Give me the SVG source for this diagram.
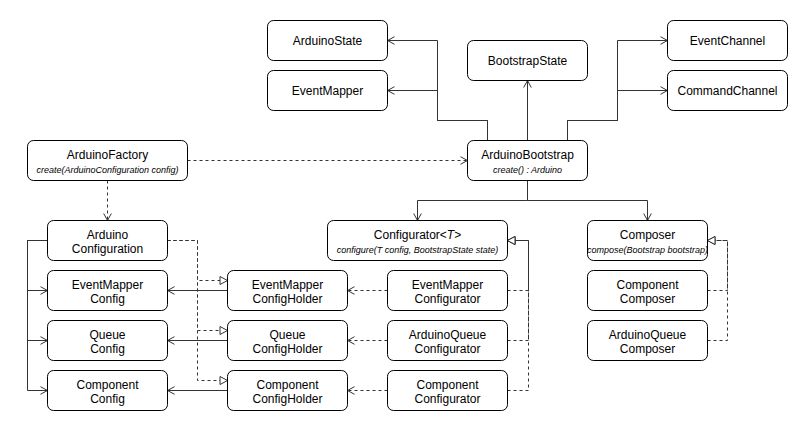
<svg xmlns="http://www.w3.org/2000/svg" width="808" height="431" viewBox="0 0 808 431">
<style>
.box{fill:#fff;stroke:#000;stroke-width:1}
.t{font-family:"Liberation Sans",Arial,sans-serif;font-size:12px;fill:#000;text-anchor:middle}
.i{font-family:"Liberation Sans",Arial,sans-serif;font-size:9px;font-style:italic;fill:#000;text-anchor:middle}
.ln{fill:none;stroke:#333;stroke-width:1}
.d{stroke-dasharray:3 3}
.oa{marker-end:url(#open)}
.ta{marker-end:url(#tri)}
</style>
<defs>
<marker id="open" markerUnits="userSpaceOnUse" viewBox="0 0 10 10" markerWidth="10" markerHeight="10" refX="9" refY="5" orient="auto">
<path d="M2,1.2 L9,5 L2,8.8" fill="none" stroke="#333" stroke-width="1"/>
</marker>
<marker id="tri" markerUnits="userSpaceOnUse" viewBox="0 0 10 10" markerWidth="10" markerHeight="10" refX="9" refY="5" orient="auto">
<path d="M1.5,1 L9,5 L1.5,9 Z" fill="#fff" stroke="#333" stroke-width="1"/>
</marker>
</defs>
<rect width="808" height="431" fill="#fff"/>
<g transform="translate(0.5,0.5)">
<g id="connectors">
<path class="ln oa" d="M487,140 V120 H437 V40 H387"/>
<path class="ln oa" d="M487,140 V120 H437 V90 H387"/>
<path class="ln oa" d="M527,140 V80"/>
<path class="ln oa" d="M567,140 V120 H617 V40 H667"/>
<path class="ln oa" d="M567,140 V120 H617 V90 H667"/>
<path class="ln d oa" d="M187,160 H467"/>
<path class="ln d oa" d="M107,180 V220"/>
<path class="ln oa" d="M47,240 H27 V290 H47"/>
<path class="ln oa" d="M47,240 H27 V340 H47"/>
<path class="ln oa" d="M47,240 H27 V390 H47"/>
<path class="ln oa" d="M227,290 H167"/>
<path class="ln oa" d="M227,340 H167"/>
<path class="ln oa" d="M227,390 H167"/>
<path class="ln d ta" d="M167,240 H197 V280 H227"/>
<path class="ln d ta" d="M167,240 H197 V330 H227"/>
<path class="ln d ta" d="M167,240 H197 V380 H227"/>
<path class="ln d oa" d="M387,290 H347"/>
<path class="ln d oa" d="M387,340 H347"/>
<path class="ln d oa" d="M387,390 H347"/>
<path class="ln d ta" d="M507,290 H528 V240 H507"/>
<path class="ln d ta" d="M507,340 H528 V240 H507"/>
<path class="ln d ta" d="M507,390 H528 V240 H507"/>
<path class="ln oa" d="M527,180 V200 H417 V220"/>
<path class="ln oa" d="M527,180 V200 H647 V220"/>
<path class="ln d ta" d="M707,290 H727 V240 H707"/>
<path class="ln d ta" d="M707,340 H727 V240 H707"/>
</g>
<g id="ArduinoState"><rect class="box" x="267" y="20" width="120" height="40" rx="6"/><text class="t" x="327" y="44">ArduinoState</text></g>
<g id="EventMapper"><rect class="box" x="267" y="70" width="120" height="40" rx="6"/><text class="t" x="327" y="94">EventMapper</text></g>
<g id="BootstrapState"><rect class="box" x="467" y="40" width="120" height="40" rx="6"/><text class="t" x="527" y="64">BootstrapState</text></g>
<g id="EventChannel"><rect class="box" x="667" y="20" width="120" height="40" rx="6"/><text class="t" x="727" y="44">EventChannel</text></g>
<g id="CommandChannel"><rect class="box" x="667" y="70" width="120" height="40" rx="6"/><text class="t" x="727" y="94">CommandChannel</text></g>
<g id="ArduinoFactory"><rect class="box" x="27" y="140" width="160" height="40" rx="6"/><text class="t" x="107" y="158">ArduinoFactory</text><text class="i" x="107" y="172">create(ArduinoConfiguration config)</text></g>
<g id="ArduinoBootstrap"><rect class="box" x="467" y="140" width="120" height="40" rx="6"/><text class="t" x="527" y="158">ArduinoBootstrap</text><text class="i" x="527" y="172">create() : Arduino</text></g>
<g id="ArduinoConfiguration"><rect class="box" x="47" y="220" width="120" height="40" rx="6"/><text class="t" x="107" y="238.5">Arduino</text><text class="t" x="107" y="252">Configuration</text></g>
<g id="EventMapperConfig"><rect class="box" x="47" y="270" width="120" height="40" rx="6"/><text class="t" x="107" y="288.5">EventMapper</text><text class="t" x="107" y="302">Config</text></g>
<g id="QueueConfig"><rect class="box" x="47" y="320" width="120" height="40" rx="6"/><text class="t" x="107" y="338.5">Queue</text><text class="t" x="107" y="352">Config</text></g>
<g id="ComponentConfig"><rect class="box" x="47" y="370" width="120" height="40" rx="6"/><text class="t" x="107" y="388.5">Component</text><text class="t" x="107" y="402">Config</text></g>
<g id="EventMapperConfigHolder"><rect class="box" x="227" y="270" width="120" height="40" rx="6"/><text class="t" x="287" y="288.5">EventMapper</text><text class="t" x="287" y="302">ConfigHolder</text></g>
<g id="QueueConfigHolder"><rect class="box" x="227" y="320" width="120" height="40" rx="6"/><text class="t" x="287" y="338.5">Queue</text><text class="t" x="287" y="352">ConfigHolder</text></g>
<g id="ComponentConfigHolder"><rect class="box" x="227" y="370" width="120" height="40" rx="6"/><text class="t" x="287" y="388.5">Component</text><text class="t" x="287" y="402">ConfigHolder</text></g>
<g id="Configurator"><rect class="box" x="327" y="220" width="180" height="40" rx="6"/><text class="t" x="417" y="238.5">Configurator&lt;<tspan font-style="italic">T</tspan>&gt;</text><text class="i" x="417" y="252">configure(T config, BootstrapState state)</text></g>
<g id="EventMapperConfigurator"><rect class="box" x="387" y="270" width="120" height="40" rx="6"/><text class="t" x="447" y="288.5">EventMapper</text><text class="t" x="447" y="302">Configurator</text></g>
<g id="ArduinoQueueConfigurator"><rect class="box" x="387" y="320" width="120" height="40" rx="6"/><text class="t" x="447" y="338.5">ArduinoQueue</text><text class="t" x="447" y="352">Configurator</text></g>
<g id="ComponentConfigurator"><rect class="box" x="387" y="370" width="120" height="40" rx="6"/><text class="t" x="447" y="388.5">Component</text><text class="t" x="447" y="402">Configurator</text></g>
<g id="Composer"><rect class="box" x="587" y="220" width="120" height="40" rx="6"/><text class="t" x="647" y="238.5">Composer</text><text class="i" x="647" y="252">compose(Bootstrap bootstrap)</text></g>
<g id="ComponentComposer"><rect class="box" x="587" y="270" width="120" height="40" rx="6"/><text class="t" x="647" y="288.5">Component</text><text class="t" x="647" y="302">Composer</text></g>
<g id="ArduinoQueueComposer"><rect class="box" x="587" y="320" width="120" height="40" rx="6"/><text class="t" x="647" y="338.5">ArduinoQueue</text><text class="t" x="647" y="352">Composer</text></g>
</g>
</svg>
